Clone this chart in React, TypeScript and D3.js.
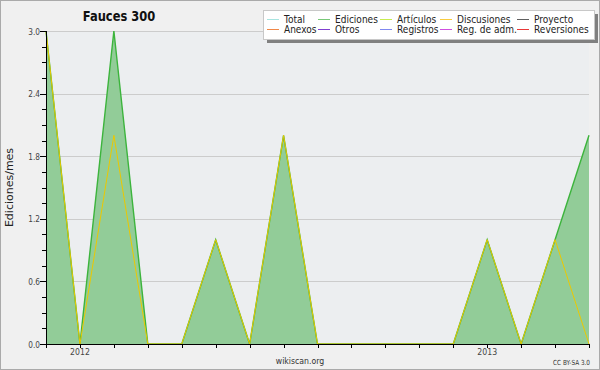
import React from "react";
import * as d3 from "d3";

const months = ["2011-12","2012-01","2012-02","2012-03","2012-04","2012-05","2012-06","2012-07","2012-08","2012-09","2012-10","2012-11","2012-12","2013-01","2013-02","2013-03","2013-04"];
const ediciones = [3,0,3,0,0,1,0,2,0,0,0,0,0,1,0,1,2];
const articulos = [3,0,2,0,0,1,0,2,0,0,0,0,0,1,0,1,0];
const yTicks = [0, 0.6, 1.2, 1.8, 2.4, 3.0];
const yearLabels = [{ label: "2012", month: "2012-01" }, { label: "2013", month: "2013-01" }];
const legendItems = [
  { name: "Total", color: "#a8e4e0" },
  { name: "Ediciones", color: "#78c878" },
  { name: "Artículos", color: "#c8ec50" },
  { name: "Discusiones", color: "#f8cc40" },
  { name: "Proyecto", color: "#606060" },
  { name: "Anexos", color: "#f08848" },
  { name: "Otros", color: "#8040d0" },
  { name: "Registros", color: "#8088f0" },
  { name: "Reg. de adm.", color: "#d050e0" },
  { name: "Reversiones", color: "#e83838" },
];

const W = 600, H = 370;
const left = 46, right = 589, top = 31, bottom = 344;
const FONT = "'DejaVu Sans', sans-serif";
const SX = 0.82;

function CText(props: { x: number; y: number; size: number; anchor?: string; fill?: string; weight?: string; children: React.ReactNode }) {
  const { x, y, size, anchor = "start", fill = "#222", weight = "normal", children } = props;
  return (
    <g transform={`translate(${x},${y}) scale(${SX},1)`}>
      <text x={0} y={0} textAnchor={anchor} fontSize={size} fill={fill} fontWeight={weight}>{children}</text>
    </g>
  );
}

export default function App() {
  const x = d3.scaleLinear().domain([0, months.length - 1]).range([left, right]);
  const y = d3.scaleLinear().domain([0, 3]).range([bottom, top]);
  const area = d3.area<number>().x((_, i) => x(i)).y0(y(0)).y1((d) => y(d));
  const line = d3.line<number>().x((_, i) => x(i)).y((d) => y(d));
  const minorTicks = d3.range(0, 3.0001, 0.15);
  const legendCols = [267, 318, 380, 440, 517];
  const legendRows = [19, 29];

  return (
    <svg width={W} height={H} style={{ position: "absolute", left: 0, top: 0 }} fontFamily={FONT}>
      <rect x={0.5} y={0.5} width={W - 1} height={H - 1} fill="#f0f0f0" stroke="#aaaaaa" />
      <rect x={left} y={top} width={right - left} height={bottom - top} fill="#eceef0" />
      {yTicks.slice(1).map((t) => (
        <line key={t} x1={left} x2={right} y1={Math.round(y(t)) + 0.5} y2={Math.round(y(t)) + 0.5} stroke="#cccccc" />
      ))}
      <path d={area(ediciones) || ""} fill="#92cc98" />
      <path d={line(ediciones) || ""} fill="none" stroke="#3cb43c" strokeWidth={1.4} />
      <path d={line(articulos) || ""} fill="none" stroke="#ecc800" strokeWidth={1} />
      {/* axes */}
      <line x1={left + 0.5} x2={left + 0.5} y1={top} y2={bottom} stroke="#000" />
      <line x1={left} x2={right + 1} y1={bottom + 0.5} y2={bottom + 0.5} stroke="#000" />
      {minorTicks.map((t) => (
        <line key={t} x1={left - 4} x2={left} y1={Math.round(y(t)) + 0.5} y2={Math.round(y(t)) + 0.5} stroke="#000" />
      ))}
      {yTicks.map((t) => (
        <g key={t}>
          <line x1={left - 6} x2={left} y1={Math.round(y(t)) + 0.5} y2={Math.round(y(t)) + 0.5} stroke="#000" />
          <CText x={left - 6} y={y(t) + 3.5} size={9} anchor="end" fill="#444">{t.toFixed(1)}</CText>
        </g>
      ))}
      {months.map((m, i) => (
        <line key={m} x1={Math.round(x(i)) + 0.5} x2={Math.round(x(i)) + 0.5} y1={bottom} y2={bottom + 4} stroke="#000" />
      ))}
      {yearLabels.map((yl) => (
        <CText key={yl.label} x={x(months.indexOf(yl.month))} y={355} size={9.5} anchor="middle" fill="#444">{yl.label}</CText>
      ))}
      <text transform={`translate(13, ${(top + bottom) / 2}) rotate(-90)`} textAnchor="middle" fontSize={11} fill="#222">Ediciones/mes</text>
      <CText x={119} y={21} size={14} anchor="middle" weight="bold" fill="#111">Fauces 300</CText>
      <CText x={300} y={364} size={9.5} anchor="middle" fill="#333">wikiscan.org</CText>
      <CText x={590} y={365} size={7} anchor="end" fill="#333">CC BY-SA 3.0</CText>
      {/* legend */}
      <rect x={267} y={14} width={331} height={29} fill="#808080" />
      <rect x={263.5} y={10.5} width={331} height={29} fill="#ffffff" stroke="#c8c8c8" />
      {legendItems.map((it, i) => {
        const cx = legendCols[i % 5];
        const cy = legendRows[Math.floor(i / 5)];
        return (
          <g key={it.name}>
            <line x1={cx} x2={cx + 12} y1={cy + 0.5} y2={cy + 0.5} stroke={it.color} strokeWidth={1} />
            <CText x={cx + 17} y={cy + 4} size={11} fill="#222">{it.name}</CText>
          </g>
        );
      })}
    </svg>
  );
}
